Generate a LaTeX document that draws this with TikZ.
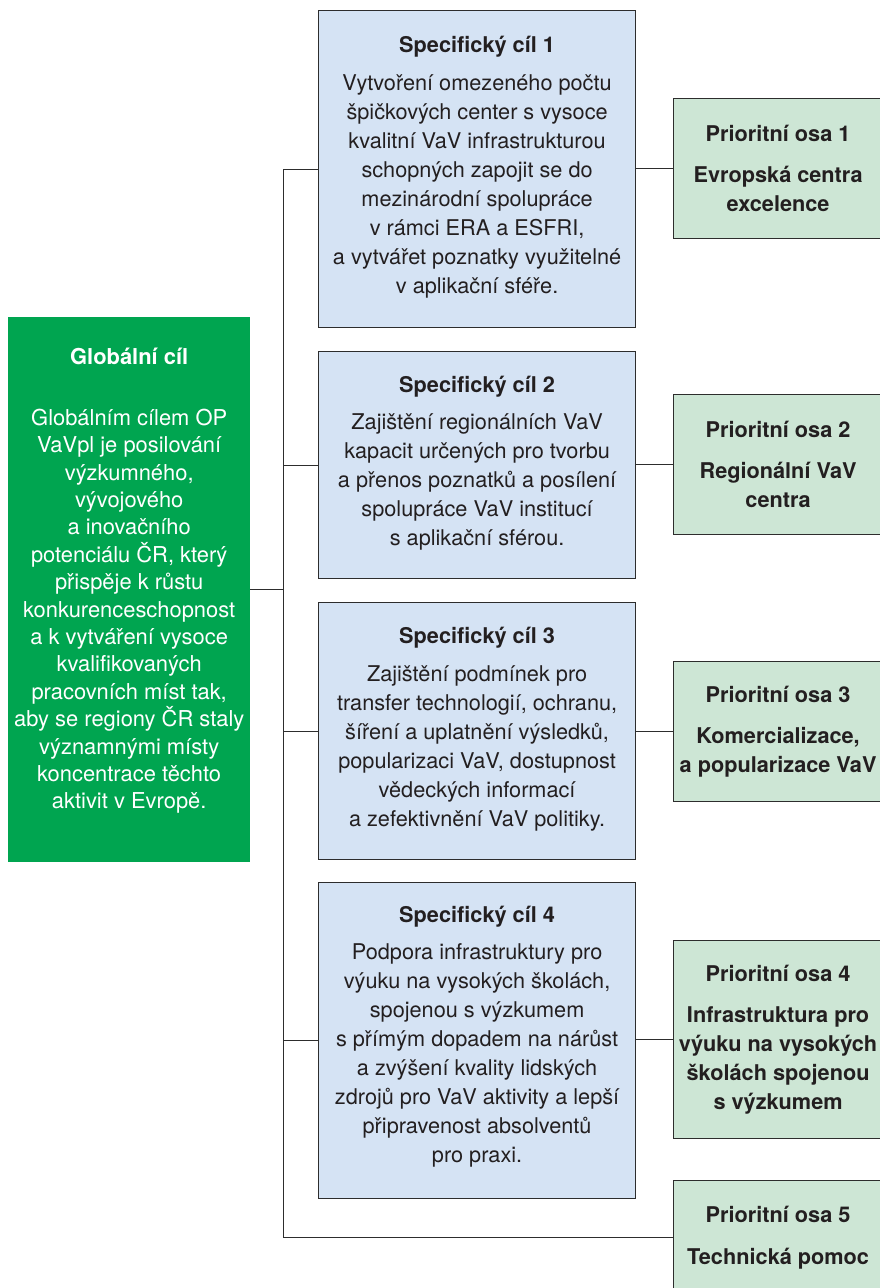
\documentclass[tikz,border=0pt]{standalone}
\usepackage{fontspec}
\setmainfont{TeX Gyre Heros}
\usetikzlibrary{calc}
\definecolor{bluefill}{RGB}{213,227,244}
\definecolor{greenlight}{RGB}{205,230,213}
\definecolor{greendark}{RGB}{0,165,80}
\definecolor{linec}{RGB}{45,45,45}
\definecolor{txtc}{RGB}{35,31,32}
\newcommand{\dpt}[1]{\rule[-#1]{0pt}{#1}}
\begin{document}
\begin{tikzpicture}[x=1pt,y=-1pt,
  box/.style={draw=linec, line width=1.2pt, inner sep=0pt, align=center, text=txtc, anchor=north west},
  spec/.style={box, fill=bluefill, minimum width=317pt, font=\fontsize{21.7}{29}\selectfont},
  prio/.style={box, fill=greenlight, minimum width=209pt, font=\fontsize{21.7}{29}\selectfont\bfseries},
  globbox/.style={anchor=north west, fill=greendark, text=white, minimum width=242pt, minimum height=545pt, align=center, inner sep=0pt, font=\fontsize{21.9}{27.4}\selectfont},
  conn/.style={draw=linec, line width=1.2pt}]
\clip (0,0) rectangle (880,1288);
\fill[white] (0,0) rectangle (880,1288);

\node[globbox] (gc) at (8,317) {\textbf{Globální cíl}\\[33.6pt]
Globálním cílem OP\\ VaVpl je posilování\\ výzkumného,\\ vývojového\\ a inovačního\\ potenciálu ČR, který\\ přispěje k růstu\\ konkurenceschopnost\\ a k vytváření vysoce\\ kvalifikovaných\\ pracovních míst tak,\\ aby se regiony ČR staly\\ významnými místy\\ koncentrace těchto\\ aktivit v Evropě.\dpt{22.5pt}};

\node[spec, minimum height=317pt] (sc1) at (318,10) {\textbf{Specifický cíl 1}\\[8.4pt]
Vytvoření omezeného počtu\\ špičkových center s vysoce\\ kvalitní VaV infrastrukturou\\ schopných zapojit se do\\ mezinárodní spolupráce\\ v rámci ERA a ESFRI,\\ a vytvářet poznatky využitelné\\ v aplikační sféře.\dpt{8.5pt}};

\node[spec, minimum height=227pt] (sc2) at (318,351) {\textbf{Specifický cíl 2}\\[8.4pt]
Zajištění regionálních VaV\\ kapacit určených pro tvorbu\\ a přenos poznatků a posílení\\ spolupráce VaV institucí\\ s aplikační sférou.\dpt{8.5pt}};

\node[spec, minimum height=257pt] (sc3) at (318,602) {\textbf{Specifický cíl 3}\\[8.4pt]
Zajištění podmínek pro\\ transfer technologií, ochranu,\\ šíření a uplatnění výsledků,\\ popularizaci VaV, dostupnost\\ vědeckých informací\\ a zefektivnění VaV politiky.\dpt{8.5pt}};

\node[spec, minimum height=316pt] (sc4) at (318,882) {\textbf{Specifický cíl 4}\\[8.4pt]
Podpora infrastruktury pro\\ výuku na vysokých školách,\\ spojenou s výzkumem\\ s přímým dopadem na nárůst\\ a zvýšení kvality lidských\\ zdrojů pro VaV aktivity a lepší\\ připravenost absolventů\\ pro praxi.\dpt{12.5pt}};

\node[prio, minimum height=140pt] (po1) at (673,98) {Prioritní osa 1\\[12pt] Evropská centra\\ excelence};
\node[prio, minimum height=140pt] (po2) at (673,394) {Prioritní osa 2\\[12pt] Regionální VaV\\ centra};
\node[prio, minimum height=140pt] (po3) at (673,661) {Prioritní osa 3\\[12pt] Komercializace,\\ a popularizace VaV};
\node[prio, minimum height=198pt] (po4) at (673,940) {Prioritní osa 4\\[12.6pt] Infrastruktura pro\\ výuku na vysokých\\ školách spojenou\\ s výzkumem};
\node[prio, minimum height=114pt] (po5) at (673,1180) {Prioritní osa 5\\[13.6pt] Technická pomoc};

\coordinate (tr) at (283.5,0);
\draw[conn] (sc1.west) -- (sc1.west -| tr) |- (po5.west);
\draw[conn] (gc.east) -- (gc.east -| tr);
\draw[conn] (sc2.west) -- (sc2.west -| tr);
\draw[conn] (sc3.west) -- (sc3.west -| tr);
\draw[conn] (sc4.west) -- (sc4.west -| tr);
\draw[conn] (po1.west -| sc1.east) -- (po1.west);
\draw[conn] (po2.west -| sc2.east) -- (po2.west);
\draw[conn] (po3.west -| sc3.east) -- (po3.west);
\draw[conn] (po4.west -| sc4.east) -- (po4.west);
\end{tikzpicture}
\end{document}
